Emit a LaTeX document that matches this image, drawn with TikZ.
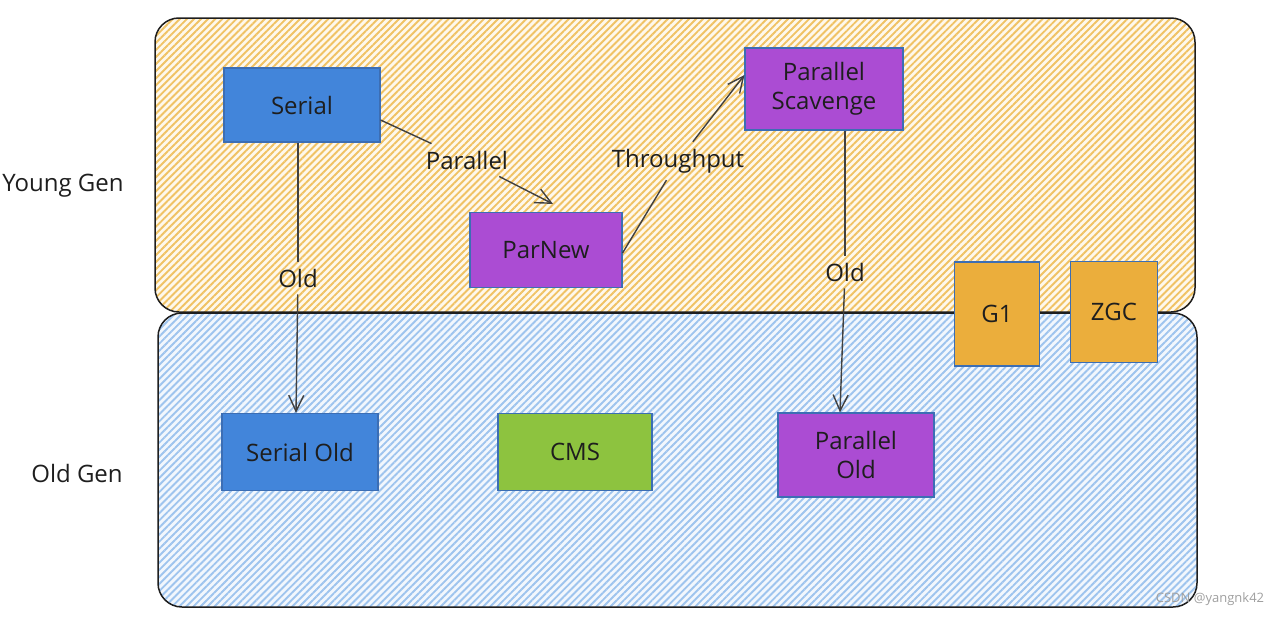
\documentclass[tikz,border=0pt]{standalone}
\usepackage{fontspec}
\setmainfont{Open Sans}
\usetikzlibrary{arrows.meta,patterns.meta}
\definecolor{serialblue}{HTML}{4285DA}
\definecolor{parpurple}{HTML}{AB4CD3}
\definecolor{cmsgreen}{HTML}{8DC33F}
\definecolor{gorange}{HTML}{EBAE3C}
\definecolor{edgeblue}{HTML}{3C6EB4}
\definecolor{ink}{HTML}{1E1E1E}
\definecolor{yhatch}{HTML}{F0C264}
\definecolor{ybase}{HTML}{FEF8EC}
\definecolor{bhatch}{HTML}{9EC4EE}
\definecolor{bbase}{HTML}{F2F7FD}
\tikzset{
  every node/.style={font=\fontsize{24}{29}\selectfont, text=ink},
  gen/.style={draw=ink, line width=1.5pt, rounded corners=24pt, inner sep=0pt},
  younggen/.style={gen, preaction={fill=ybase},
     preaction={pattern={Lines[angle=45,distance=5pt,line width=1.9pt]}, pattern color=yhatch}},
  oldgen/.style={gen, preaction={fill=bbase},
     preaction={pattern={Lines[angle=45,distance=5pt,line width=1.9pt]}, pattern color=bhatch}},
  gcbox/.style={draw=edgeblue, line width=1.1pt, align=center, inner sep=2pt},
  lbl/.style={inner sep=7pt},
  conn/.style={draw=ink!85, line width=1.4pt},
  arr/.style={conn, -{Straight Barb[length=16pt,width=15pt,line width=1.4pt]}},
}
\begin{document}
\begin{tikzpicture}[x=1pt,y=-1pt]
\useasboundingbox (0,0) rectangle (1280,616);
% generations
\node[younggen, minimum width=1040pt, minimum height=294pt] (young) at (675,165) {};
\node[oldgen, minimum width=1039pt, minimum height=294pt] (old) at (677.5,460) {};
\node (younglbl) at (63,186) {Young Gen};
\node (oldlbl) at (77,473) {Old Gen};
% collectors
\node[gcbox, fill=serialblue, minimum width=156pt, minimum height=74pt] (serial) at (302,105) {Serial};
\node[gcbox, fill=parpurple, minimum width=152pt, minimum height=75pt] (parnew) at (546,250) {ParNew};
\node[gcbox, fill=parpurple, minimum width=158pt, minimum height=82pt] (ps) at (824,89) {Parallel\\Scavenge};
\node[gcbox, fill=serialblue, minimum width=156pt, minimum height=77pt] (serialold) at (300,452) {Serial Old};
\node[gcbox, fill=cmsgreen, minimum width=154pt, minimum height=77pt] (cms) at (575,452) {CMS};
\node[gcbox, fill=parpurple, minimum width=156pt, minimum height=84pt] (parold) at (856,455) {Parallel\\Old};
\node[gcbox, fill=gorange, minimum width=85pt, minimum height=104pt] (g1) at (997,314) {G1};
\node[gcbox, fill=gorange, minimum width=87pt, minimum height=101pt] (zgc) at (1114,312) {ZGC};
% labels on connectors
\node[lbl] (lpar) at (467,160) {Parallel};
\node[lbl] (lthr) at (678,161) {Throughput};
\node[lbl] (lold1) at (298,278) {Old};
\node[lbl] (lold2) at (845,272) {Old};
% connectors
\draw[conn] ([yshift=-15pt]serial.east) -- (lpar);
\draw[arr] (lpar) -- ([xshift=7pt,yshift=8pt]parnew.north);
\draw[conn] ([yshift=-3pt]parnew.east) -- (lthr);
\draw[arr] (lthr) -- ([yshift=14pt]ps.west);
\draw[conn] ([xshift=-4pt]serial.south) -- (lold1);
\draw[arr] (lold1) -- ([xshift=-4pt]serialold.north);
\draw[conn] ([xshift=21pt]ps.south) -- (lold2);
\draw[arr] (lold2) -- ([xshift=-16pt]parold.north);
% watermark
\node[font=\fontsize{13}{15}\selectfont, text=gray!75] (wm) at (1210,599) {CSDN @yangnk42};
\end{tikzpicture}
\end{document}
